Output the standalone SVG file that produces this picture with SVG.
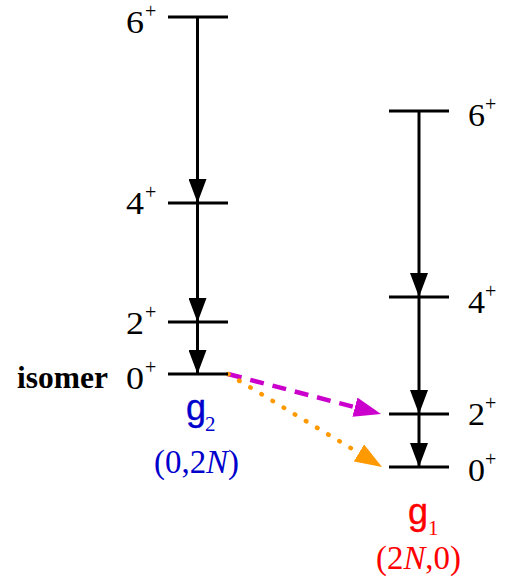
<svg xmlns="http://www.w3.org/2000/svg" width="507" height="581" viewBox="0 0 507 581">
<style>
.lvl{stroke:#000;stroke-width:3.2;fill:none}
.tr{stroke:#000;stroke-width:3;fill:none;marker-end:url(#ah)}
.num{font-family:"Liberation Serif","Times New Roman",serif;font-size:32px;fill:#000}
.sup{font-family:"Liberation Serif","Times New Roman",serif;font-size:20px;fill:#000}
.band{font-family:"Liberation Sans",Arial,sans-serif;font-size:36px;stroke-width:0.4}
.sub{font-family:"Liberation Serif","Times New Roman",serif;font-size:21px}
.q{font-family:"Liberation Serif","Times New Roman",serif;font-size:33px}
</style>
<defs>
<marker id="ah" markerUnits="userSpaceOnUse" markerWidth="24" markerHeight="18" refX="24" refY="9" orient="auto" viewBox="0 0 24 18"><path d="M0,0 L24,9 L0,18 Z" fill="#000"/></marker>
<marker id="am" markerUnits="userSpaceOnUse" markerWidth="27" markerHeight="20" refX="0" refY="10" orient="auto" viewBox="0 0 27 20"><path d="M0,0 L27,10 L0,20 Z" fill="#CC00CC"/></marker>
<marker id="ao" markerUnits="userSpaceOnUse" markerWidth="27" markerHeight="20" refX="0" refY="10" orient="auto" viewBox="0 0 27 20"><path d="M0,0 L27,10 L0,20 Z" fill="#FF9900"/></marker>
</defs>
<rect width="507" height="581" fill="#fff"/>

<g id="connectors">
<path class="tr" d="M197.5,17 V203"/>
<path class="tr" d="M197.5,203 V322"/>
<path class="tr" d="M197.5,322 V374"/>
<path class="tr" d="M419,111 V297"/>
<path class="tr" d="M419,297 V414"/>
<path class="tr" d="M419,414 V467"/>
<path d="M228,374 L354.9,407.2" stroke="#CC00CC" stroke-width="4.5" stroke-dasharray="14 9" fill="none" marker-end="url(#am)"/>
<path d="M228,374 L358.9,453" stroke="#FF9900" stroke-width="4.5" stroke-linecap="round" stroke-dasharray="0.5 12.5" fill="none" marker-end="url(#ao)"/>
</g>

<g id="g2-6">
<line class="lvl" x1="168" y1="17" x2="228" y2="17"/>
<text class="num" x="126" y="33" textLength="18" lengthAdjust="spacingAndGlyphs">6</text><text class="sup" x="145" y="18">+</text>
</g>
<g id="g2-4">
<line class="lvl" x1="168" y1="203" x2="228" y2="203"/>
<text class="num" x="126" y="214" textLength="18" lengthAdjust="spacingAndGlyphs">4</text><text class="sup" x="145" y="199">+</text>
</g>
<g id="g2-2">
<line class="lvl" x1="168" y1="322" x2="228" y2="322"/>
<text class="num" x="126" y="334" textLength="18" lengthAdjust="spacingAndGlyphs">2</text><text class="sup" x="145" y="319">+</text>
</g>
<g id="g2-0">
<line class="lvl" x1="168" y1="374" x2="228" y2="374"/>
<text class="num" x="126" y="389" textLength="18" lengthAdjust="spacingAndGlyphs">0</text><text class="sup" x="145" y="374">+</text>
<text x="17" y="388" font-family="'Liberation Serif','Times New Roman',serif" font-weight="bold" font-size="32" textLength="91" lengthAdjust="spacingAndGlyphs">isomer</text>
</g>
<g id="g2-label" fill="#0000CC">
<text class="band" x="186" y="420" stroke="#0000CC">g</text><text class="sub" x="205" y="431">2</text>
<text class="q" x="154" y="473" textLength="85" lengthAdjust="spacingAndGlyphs">(0,2<tspan font-style="italic">N</tspan>)</text>
</g>

<g id="g1-6">
<line class="lvl" x1="389" y1="111" x2="449" y2="111"/>
<text class="num" x="468" y="126" textLength="17" lengthAdjust="spacingAndGlyphs">6</text><text class="sup" x="485" y="111">+</text>
</g>
<g id="g1-4">
<line class="lvl" x1="389" y1="297" x2="449" y2="297"/>
<text class="num" x="468" y="313" textLength="17" lengthAdjust="spacingAndGlyphs">4</text><text class="sup" x="485" y="298">+</text>
</g>
<g id="g1-2">
<line class="lvl" x1="389" y1="414" x2="449" y2="414"/>
<text class="num" x="468" y="425" textLength="17" lengthAdjust="spacingAndGlyphs">2</text><text class="sup" x="485" y="410">+</text>
</g>
<g id="g1-0">
<line class="lvl" x1="389" y1="467" x2="449" y2="467"/>
<text class="num" x="468" y="481" textLength="17" lengthAdjust="spacingAndGlyphs">0</text><text class="sup" x="485" y="466">+</text>
</g>
<g id="g1-label" fill="#FF0000">
<text class="band" x="408" y="524" stroke="#FF0000">g</text><text class="sub" x="428" y="535">1</text>
<text class="q" x="376" y="569" textLength="85" lengthAdjust="spacingAndGlyphs">(2<tspan font-style="italic">N</tspan>,0)</text>
</g>
</svg>
